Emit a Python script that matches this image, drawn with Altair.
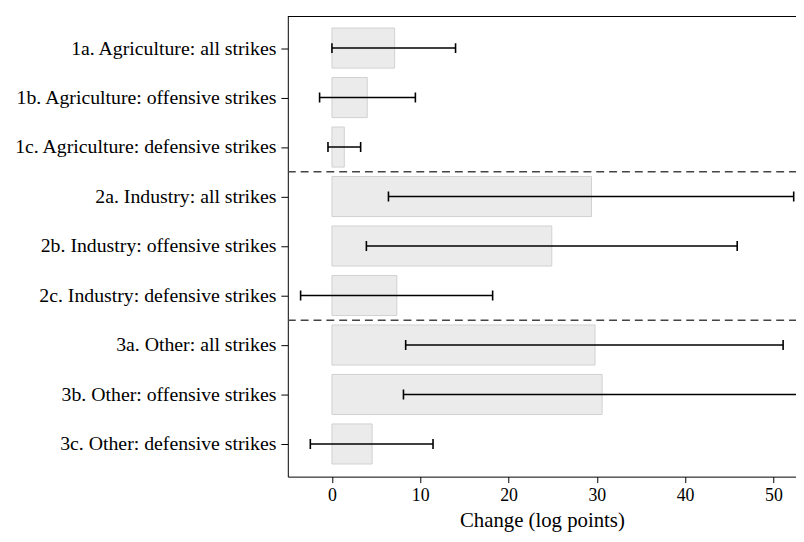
import json
import altair as alt
import pandas as pd

labels = [
    "1a. Agriculture: all strikes",
    "1b. Agriculture: offensive strikes",
    "1c. Agriculture: defensive strikes",
    "2a. Industry: all strikes",
    "2b. Industry: offensive strikes",
    "2c. Industry: defensive strikes",
    "3a. Other: all strikes",
    "3b. Other: offensive strikes",
    "3c. Other: defensive strikes",
]
estimate = [7.1, 4.0, 1.4, 29.4, 24.9, 7.35, 29.8, 30.6, 4.55]
ci_low = [0.0, -1.4, -0.45, 6.4, 3.9, -3.55, 8.35, 8.1, -2.45]
ci_high = [14.0, 9.45, 3.25, 52.3, 45.9, 18.2, 51.1, 56.0, 11.45]
group_breaks = [2.5, 5.5]
x_ticks = [0, 10, 20, 30, 40, 50]

df = pd.DataFrame({
    "label": labels,
    "idx": list(range(len(labels))),
    "est": estimate,
    "lo": ci_low,
    "hi": ci_high,
})
breaks = pd.DataFrame({"b": group_breaks})

FONT = "'Liberation Serif', 'Times New Roman', Times, 'DejaVu Serif', serif"
W, H = 514, 466
label_expr = "[" + ",".join(json.dumps(l) for l in labels) + "][datum.value]"

xscale = alt.Scale(domain=[-5, 52.56], nice=False, zero=False)
yscale = alt.Scale(domain=[-0.65, 8.66], nice=False, zero=False, reverse=True)

base = alt.Chart(df).transform_calculate(
    zero="0",
    bar_top="datum.idx - 0.405",
    bar_bot="datum.idx + 0.405",
    cap_top="datum.idx - 0.1",
    cap_bot="datum.idx + 0.1",
)

bars = base.mark_bar(fill="#ebebeb", stroke="#d0d0d0", strokeWidth=1, clip=True).encode(
    x=alt.X("zero:Q", scale=xscale,
            axis=alt.Axis(values=x_ticks, title="Change (log points)", grid=False,
                          tickSize=6, tickColor="black", domainColor="black",
                          labelFont=FONT, titleFont=FONT,
                          labelFontSize=18, titleFontSize=21, labelPadding=4,
                          titlePadding=5, labelColor="black", titleColor="black",
                          titleFontWeight="normal")),
    x2="est:Q",
    y=alt.Y("bar_top:Q", scale=yscale,
            axis=alt.Axis(values=list(range(len(labels))), labelExpr=label_expr,
                          title=None, grid=False, tickSize=7, tickColor="black",
                          domainColor="black",
                          labelFont=FONT, labelFontSize=20,
                          labelPadding=5, labelLimit=400,
                          labelColor="black", minExtent=274, maxExtent=274)),
    y2="bar_bot:Q",
)

err = base.mark_rule(color="black", strokeWidth=1.6, clip=True).encode(
    x="lo:Q", x2="hi:Q", y="idx:Q"
)
cap_lo = base.mark_rule(color="black", strokeWidth=1.6, clip=True).encode(
    x="lo:Q", y="cap_top:Q", y2="cap_bot:Q"
)
cap_hi = base.mark_rule(color="black", strokeWidth=1.6, clip=True).encode(
    x="hi:Q", y="cap_top:Q", y2="cap_bot:Q"
)
seps = alt.Chart(breaks).mark_rule(color="#444444", strokeWidth=1.5,
                                    strokeDash=[8, 5], clip=True).encode(
    y=alt.Y("b:Q", scale=yscale),
    x=alt.value(0), x2=alt.value(W),
)
top_border = alt.Chart(breaks).mark_rule(color="black", strokeWidth=1, clip=True).encode(
    y=alt.value(0.5), x=alt.value(0), x2=alt.value(W),
)

chart = alt.layer(bars, seps, err, cap_lo, cap_hi, top_border).properties(
    width=W, height=H,
    padding={"left": 5, "top": 5, "right": 0, "bottom": 0},
).configure(font=FONT).configure_view(stroke=None)

chart.save("out.html", embed_options={"renderer": "svg", "actions": False})
